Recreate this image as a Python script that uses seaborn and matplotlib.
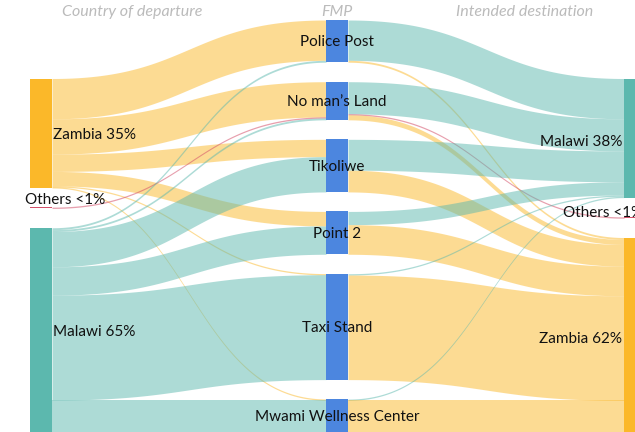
import numpy as np
import matplotlib
matplotlib.use("Agg")
import matplotlib.pyplot as plt
from matplotlib.patches import Rectangle
import seaborn as sns

# Nodes of each stage, top to bottom
departures = ["Zambia", "Others", "Malawi"]
fmps = ["Police Post", "No man\u2019s Land", "Tikoliwe", "Point 2", "Taxi Stand",
        "Mwami Wellness Center"]
destinations = ["Malawi", "Others", "Zambia"]

# Flows (share of travellers, %): country of departure -> FMP
in_src = ["Zambia", "Zambia", "Zambia", "Zambia", "Zambia", "Zambia",
          "Others",
          "Malawi", "Malawi", "Malawi", "Malawi", "Malawi", "Malawi"]
in_fmp = ["Police Post", "No man\u2019s Land", "Tikoliwe", "Point 2", "Taxi Stand",
          "Mwami Wellness Center",
          "No man\u2019s Land",
          "Police Post", "No man\u2019s Land", "Tikoliwe", "Point 2", "Taxi Stand",
          "Mwami Wellness Center"]
in_val = [12.8, 11.2, 5.5, 4.6, 0.3, 0.3,
          0.3,
          0.6, 0.6, 11.2, 9.0, 33.3, 10.3]

# Flows (%): FMP -> intended destination
out_fmp = ["Police Post", "Police Post",
           "No man\u2019s Land", "No man\u2019s Land", "No man\u2019s Land",
           "Tikoliwe", "Tikoliwe",
           "Point 2", "Point 2",
           "Taxi Stand", "Taxi Stand",
           "Mwami Wellness Center", "Mwami Wellness Center"]
out_dst = ["Malawi", "Zambia",
           "Malawi", "Others", "Zambia",
           "Malawi", "Zambia",
           "Malawi", "Zambia",
           "Malawi", "Zambia",
           "Malawi", "Zambia"]
out_val = [12.8, 0.6,
           10.2, 0.3, 1.6,
           9.8, 6.9,
           4.2, 9.4,
           0.4, 33.2,
           0.4, 10.2]

headers = ["Country of departure", "FMP", "Intended destination"]

country_colors = {"Zambia": "#FBB829", "Malawi": "#5CB8AE", "Others": "#D4506A"}
fmp_color = "#4C86DF"

sns.set_theme(style="white")
plt.rcParams["font.family"] = ["Lato", "DejaVu Sans"]

W, H = 635, 432
fig = plt.figure(figsize=(W / 100, H / 100), dpi=100)
ax = fig.add_axes([0, 0, 1, 1])
ax.set_xlim(0, W)
ax.set_ylim(H, 0)
ax.axis("off")

PX = 3.15          # pixels per percentage point
GAP = 19.5         # vertical gap between nodes
BOTTOM = 432.5
col_x = [(30, 52), (326, 348), (624, 646)]
columns = [departures, fmps, destinations]


def totals(names, keys, vals):
    return {n: sum(v for k, v in zip(keys, vals) if k == n) for n in names}


node_val = [totals(departures, in_src, in_val),
            {n: max(a, b) for (n, a), b in zip(totals(fmps, in_fmp, in_val).items(),
                                               totals(fmps, out_fmp, out_val).values())},
            totals(destinations, out_dst, out_val)]

# stack each column from the bottom
node_pos = {}
for c, names in enumerate(columns):
    y1 = BOTTOM
    for n in reversed(names):
        h = node_val[c][n] * PX
        node_pos[(c, n)] = (y1 - h, y1)
        y1 = y1 - h - GAP


def ribbon(x0, x1, ya0, ya1, yb0, yb1, color, alpha):
    t = np.linspace(0, 1, 120)
    s = 3 * t ** 2 - 2 * t ** 3
    x = x0 + (x1 - x0) * (1.5 * t * (1 - t) + t ** 3)
    top = ya0 + (yb0 - ya0) * s
    bot = ya1 + (yb1 - ya1) * s
    th = bot - top
    mid = (top + bot) / 2
    th = np.maximum(th, 1.3)
    ax.fill_between(x, mid - th / 2, mid + th / 2, color=color, alpha=alpha,
                    lw=0, zorder=1)


def draw_stage(c, srcs, tgts, vals, color_of):
    s_names, t_names = columns[c], columns[c + 1]
    links = list(zip(srcs, tgts, vals))
    # outgoing offsets ordered by target, incoming ordered by source
    s_off = {n: node_pos[(c, n)][0] for n in s_names}
    t_off = {n: node_pos[(c + 1, n)][0] for n in t_names}
    seg = {}
    for s in s_names:
        for l in sorted([l for l in links if l[0] == s], key=lambda l: t_names.index(l[1])):
            y = s_off[s]
            seg[l] = [y, y + l[2] * PX]
            s_off[s] += l[2] * PX
    for t in t_names:
        for l in sorted([l for l in links if l[1] == t], key=lambda l: s_names.index(l[0])):
            y = t_off[t]
            seg[l] += [y, y + l[2] * PX]
            t_off[t] += l[2] * PX
    for l in links:
        ya0, ya1, yb0, yb1 = seg[l]
        name = color_of(l)
        alpha = 0.5 if name != "Others" else 0.55
        ribbon(col_x[c][1], col_x[c + 1][0], ya0, ya1, yb0, yb1,
               country_colors[name], alpha)


draw_stage(0, in_src, in_fmp, in_val, lambda l: l[0])
draw_stage(1, out_fmp, out_dst, out_val, lambda l: l[1])

# nodes
for c, names in enumerate(columns):
    x0, x1 = col_x[c]
    for n in names:
        y0, y1 = node_pos[(c, n)]
        color = fmp_color if c == 1 else country_colors[n]
        ax.add_patch(Rectangle((x0, y0), x1 - x0, max(y1 - y0, 1.0), color=color,
                               lw=0, zorder=3))


def pct(v):
    return "<1%" if v < 1 else f"{round(v)}%"


lab_kw = dict(fontsize=11, color="#111111", zorder=5, va="center")
for c, names in enumerate(columns):
    x0, x1 = col_x[c]
    for n in names:
        y0, y1 = node_pos[(c, n)]
        yc = (y0 + y1) / 2
        if c == 1:
            ax.text((x0 + x1) / 2, yc + 1, n, ha="center", **lab_kw)
            continue
        label = f"{n} {pct(node_val[c][n])}"
        if n == "Others":
            if c == 0:
                ax.text(x0 - 5, yc - 8, label, ha="left", **lab_kw)
            else:
                ax.text(x0 - 61, yc - 5, label, ha="left", **lab_kw)
        elif c == 0:
            ax.text(x1 + 1, yc + 2, label, ha="left", **lab_kw)
        else:
            ax.text(x0 - 2, yc + 4, label, ha="right", **lab_kw)

for hx, h in zip([132, 337, 525], headers):
    ax.text(hx, 12, h, ha="center", va="center", fontsize=11.5, style="italic",
            color="#BBBBBB", zorder=5)

fig.savefig("out.png", dpi=100)
